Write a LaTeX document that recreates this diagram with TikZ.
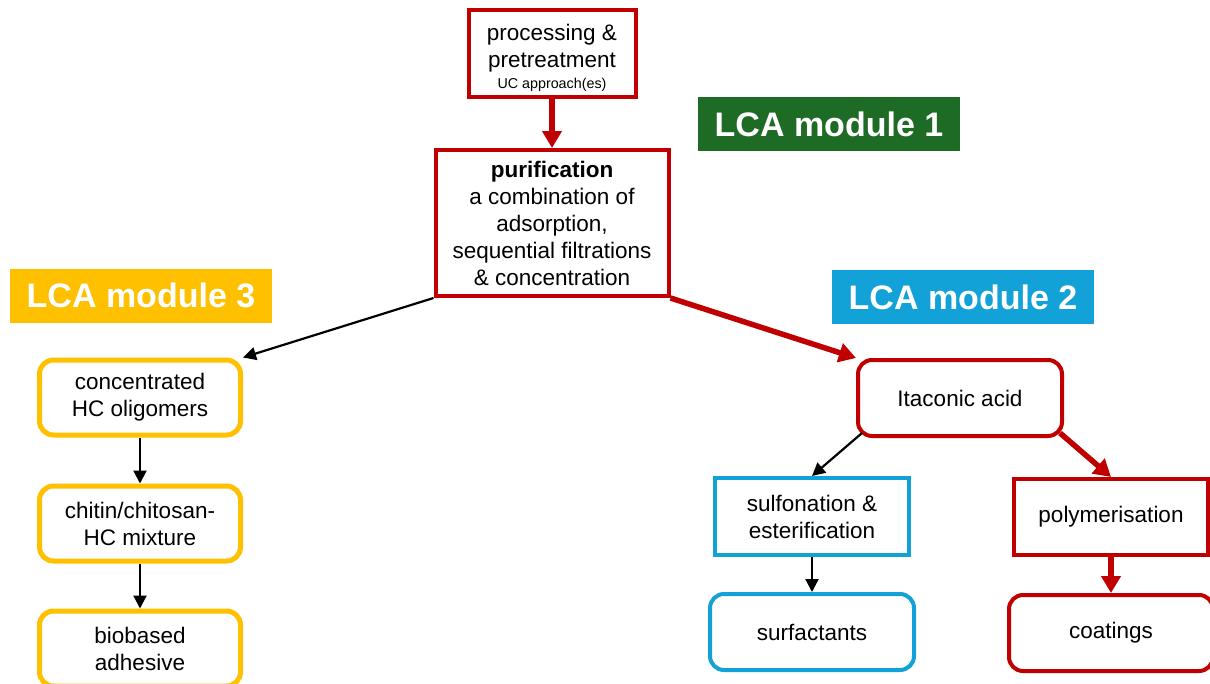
\documentclass[tikz,border=0pt]{standalone}
\usepackage{fontspec}
\setmainfont{Liberation Sans}
\usepackage{xcolor}
\usetikzlibrary{positioning,arrows.meta}

\definecolor{lcared}{HTML}{C00000}
\definecolor{lcayellow}{HTML}{FFC000}
\definecolor{lcablue}{HTML}{12A2D8}
\definecolor{lcagreen}{HTML}{1E6B26}

\begin{document}
\begin{tikzpicture}[
    x=1pt, y=-1pt,
    node distance=46pt and 60pt,
    stage/.style={rectangle, draw=lcared, line width=4pt, align=center, font=\fontsize{22.5}{27}\selectfont, inner sep=0pt},
    product/.style={stage, rounded corners=14pt},
    yellowbox/.style={product, draw=lcayellow, line width=5pt, minimum width=201pt, minimum height=75pt},
    bluebox/.style={stage, draw=lcablue},
    modulebox/.style={rectangle, fill=#1, text=white, font=\fontsize{34}{40}\selectfont\bfseries, minimum width=262pt, minimum height=54pt, inner sep=0pt},
    arrow/.style={-{Triangle[width=13pt,length=13pt]}, line width=2.2pt},
    redarrow/.style={-{Triangle[width=19pt,length=17pt]}, line width=5.5pt, draw=lcared, fill=lcared}
]
\useasboundingbox (0,0) rectangle (1210,683);

% Pretreatment and purification
\node[stage, minimum width=167pt, minimum height=87pt] (proc) at (552,53.5) {\rule{0pt}{24pt}processing \&\\pretreatment\\[-6pt]{\fontsize{14.3}{16}\selectfont UC approach(es)}};
\node[stage, minimum width=233pt, minimum height=146pt] (purif) at (552,223) {\textbf{purification}\\a combination of\\adsorption,\\sequential filtrations\\\& concentration};

% Module labels
\node[modulebox=lcagreen] (mod1) at (829,124) {LCA module 1};
\node[modulebox=lcayellow] (mod3) at (141,295.5) {LCA module 3};
\node[modulebox=lcablue] (mod2) at (963,297) {LCA module 2};

% Module 3 branch
\node[yellowbox] (oligo) at (140,397.5) {concentrated\\HC oligomers};
\node[yellowbox, below=46pt of oligo] (chitin) {chitin/chitosan-\\HC mixture};
\node[yellowbox, below=45pt of chitin] (adhesive) {biobased\\adhesive};

% Module 2 branch
\node[product, minimum width=204pt, minimum height=76pt] (itac) at (960,398) {Itaconic acid};
\node[bluebox, minimum width=194pt, minimum height=77pt] (sulf) at (812,516.5) {sulfonation \&\\esterification};
\node[stage, minimum width=194pt, minimum height=76pt] (poly) at (1111,517) {polymerisation};
\node[bluebox, rounded corners=14pt, minimum width=204pt, minimum height=76pt] (surf) at (812,632) {surfactants};
\node[product, minimum width=204pt, minimum height=76pt] (coat) at (1111,633) {coatings};

% Arrows
\draw[redarrow] (proc) -- (purif);
\draw[arrow] (purif.south west) -- (oligo.north east);
\draw[redarrow] (purif.south east) -- (itac.north west);
\draw[arrow] (oligo) -- (chitin);
\draw[arrow] (chitin) -- (adhesive);
\draw[arrow] ([shift={(6,-5)}]itac.south west) -- (sulf.north);
\draw[redarrow] ([shift={(-4,-5)}]itac.south east) -- (poly.north);
\draw[arrow] (sulf) -- (surf);
\draw[redarrow] (poly) -- (coat);

\end{tikzpicture}
\end{document}
